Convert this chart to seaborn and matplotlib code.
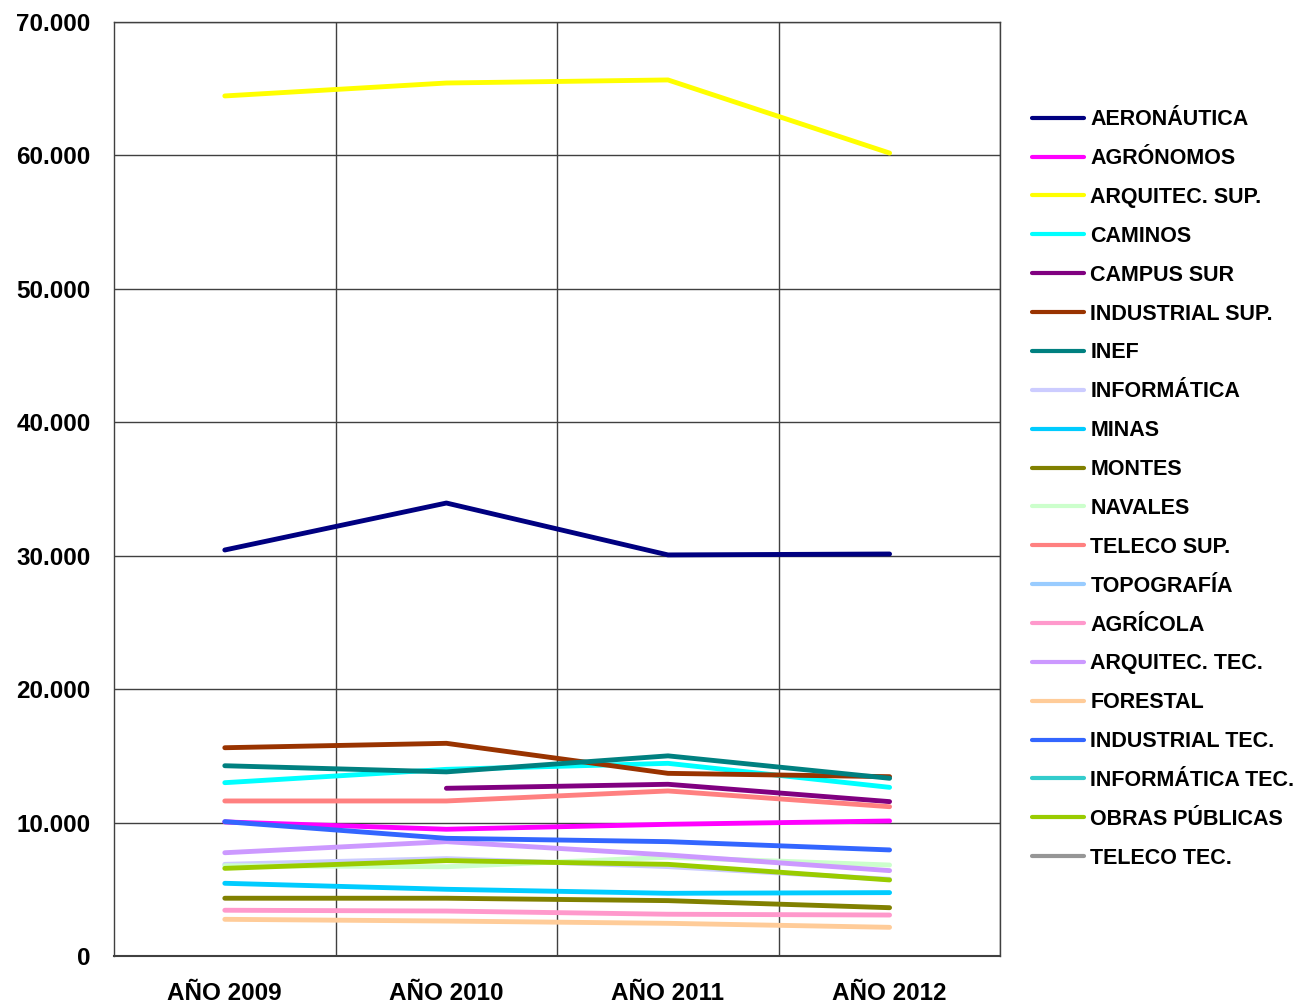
import numpy as np
import pandas as pd
import matplotlib
matplotlib.use("Agg")
import matplotlib.pyplot as plt
import seaborn as sns
from matplotlib.lines import Line2D
from matplotlib.ticker import FuncFormatter, FixedLocator

# -----------------------------
# Data
# -----------------------------
years = ["AÑO 2009", "AÑO 2010", "AÑO 2011", "AÑO 2012"]

aeronautica = [30430, 33950, 30060, 30130]
agronomos = [10050, 9500, 9870, 10120]
arquitec_sup = [64460, 65430, 65660, 60180]
caminos = [12990, 13990, 14440, 12640]
campus_sur = [np.nan, 12570, 12870, 11570]
industrial_sup = [15610, 15940, 13690, 13440]
inef = [14260, 13800, 15000, 13320]
informatica = [6870, 7300, 6700, 5750]
minas = [5450, 5000, 4700, 4750]
montes = [4330, 4330, 4150, 3620]
navales = [6770, 6690, 7400, 6820]
teleco_sup = [11620, 11620, 12370, 11190]
topografia = [np.nan, np.nan, np.nan, np.nan]
agricola = [3430, 3370, 3130, 3070]
arquitec_tec = [7740, 8570, 7570, 6400]
forestal = [2750, 2620, 2450, 2150]
industrial_tec = [10070, 8820, 8570, 7950]
informatica_tec = [np.nan, np.nan, np.nan, np.nan]
obras_publicas = [6570, 7150, 6870, 5700]
teleco_tec = [np.nan, np.nan, np.nan, np.nan]

series = {
    "AERONÁUTICA": aeronautica,
    "AGRÓNOMOS": agronomos,
    "ARQUITEC. SUP.": arquitec_sup,
    "CAMINOS": caminos,
    "CAMPUS SUR": campus_sur,
    "INDUSTRIAL SUP.": industrial_sup,
    "INEF": inef,
    "INFORMÁTICA": informatica,
    "MINAS": minas,
    "MONTES": montes,
    "NAVALES": navales,
    "TELECO SUP.": teleco_sup,
    "TOPOGRAFÍA": topografia,
    "AGRÍCOLA": agricola,
    "ARQUITEC. TEC.": arquitec_tec,
    "FORESTAL": forestal,
    "INDUSTRIAL TEC.": industrial_tec,
    "INFORMÁTICA TEC.": informatica_tec,
    "OBRAS PÚBLICAS": obras_publicas,
    "TELECO TEC.": teleco_tec,
}

colors = {
    "AERONÁUTICA": "#000080",
    "AGRÓNOMOS": "#FF00FF",
    "ARQUITEC. SUP.": "#FFFF00",
    "CAMINOS": "#00FFFF",
    "CAMPUS SUR": "#800080",
    "INDUSTRIAL SUP.": "#993300",
    "INEF": "#008080",
    "INFORMÁTICA": "#CCCCFF",
    "MINAS": "#00CCFF",
    "MONTES": "#808000",
    "NAVALES": "#CCFFCC",
    "TELECO SUP.": "#FF8080",
    "TOPOGRAFÍA": "#99CCFF",
    "AGRÍCOLA": "#FF99CC",
    "ARQUITEC. TEC.": "#CC99FF",
    "FORESTAL": "#FFCC99",
    "INDUSTRIAL TEC.": "#3366FF",
    "INFORMÁTICA TEC.": "#33CCCC",
    "OBRAS PÚBLICAS": "#99CC00",
    "TELECO TEC.": "#969696",
}

# Long-form table for seaborn
rows = []
for name, vals in series.items():
    for i, v in enumerate(vals):
        rows.append({"school": name, "pos": i, "value": v})
df = pd.DataFrame(rows).dropna()

# -----------------------------
# Plot
# -----------------------------
sns.set_style("white")
plt.rcParams["font.family"] = ["Liberation Sans", "DejaVu Sans"]
plt.rcParams["text.color"] = "black"
plt.rcParams["xtick.color"] = "black"
plt.rcParams["ytick.color"] = "black"

fig = plt.figure(figsize=(12.97, 10.06), dpi=100)
ax = fig.add_axes([0.0879, 0.0497, 0.6834, 0.9284])

# later series drawn on top, like the original spreadsheet chart
for name in series.keys():
    sub = df[df["school"] == name]
    if len(sub) == 0:
        continue
    sns.lineplot(data=sub, x="pos", y="value", color=colors[name],
                 linewidth=3.5, ax=ax, sort=False, legend=False,
                 solid_capstyle="round")

ax.set_xlim(-0.5, 3.5)
ax.set_ylim(0, 70000)
ax.set_xlabel("")
ax.set_ylabel("")

# y axis
ax.yaxis.set_major_locator(FixedLocator(np.arange(0, 70001, 10000)))
ax.yaxis.set_major_formatter(FuncFormatter(lambda v, p: f"{int(v):,}".replace(",", ".")))

# x axis: labels at centres, ticks/grid at boundaries
ax.set_xticks([0.5, 1.5, 2.5, 3.5])
ax.set_xticklabels([])
ax.set_xticks(range(len(years)), minor=True)
ax.set_xticklabels(years, minor=True)
ax.tick_params(axis="x", which="minor", length=0, pad=19)
ax.tick_params(axis="x", which="major", length=5, width=1, color="#404040", direction="out")
ax.tick_params(axis="y", length=5, width=1, color="#404040", direction="out", pad=12)

for lbl in ax.get_xticklabels(minor=True) + ax.get_yticklabels():
    lbl.set_fontsize(17.5)
    lbl.set_fontweight("bold")
    lbl.set_color("black")

ax.grid(True, which="major", color="#404040", linewidth=1)
ax.set_axisbelow(True)
for side in ["left", "bottom", "top", "right"]:
    ax.spines[side].set_visible(True)
    ax.spines[side].set_color("#404040")
    ax.spines[side].set_linewidth(1)
ax.spines["bottom"].set_linewidth(1.5)

# legend
handles = [Line2D([0], [0], color=colors[n], linewidth=3) for n in series.keys()]
leg = ax.legend(handles, list(series.keys()), loc="center left",
                bbox_to_anchor=(1.036, 0.5), frameon=False,
                prop={"size": 15.5, "weight": "bold"},
                handlelength=2.4, handletextpad=0.3, labelspacing=0.83,
                borderaxespad=0, borderpad=0)
for t in leg.get_texts():
    t.set_color("black")

plt.savefig("out.png", dpi=100)
